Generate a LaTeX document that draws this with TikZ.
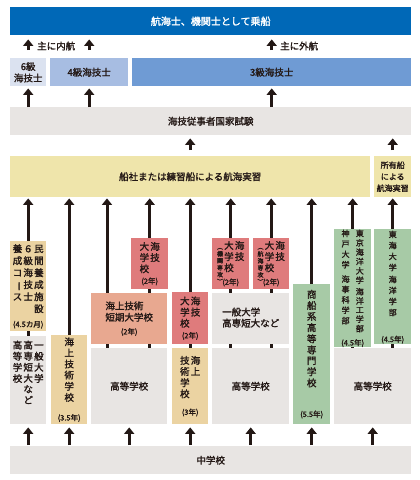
\documentclass[tikz,border=0pt]{standalone}
\usepackage{fontspec}
\newfontfamily\jp{Noto Sans CJK JP}[FakeBold=1.6]
\usetikzlibrary{arrows.meta,backgrounds}

\definecolor{sumi}{HTML}{231815}
\definecolor{kaiun}{HTML}{0068B7}
\definecolor{rokuiro}{HTML}{DBE2F0}
\definecolor{yoniro}{HTML}{A7BDE2}
\definecolor{saniro}{HTML}{6F9BD4}
\definecolor{haiiro}{HTML}{E8E5E3}
\definecolor{kiiro}{HTML}{EFE5AB}
\definecolor{chairo}{HTML}{EBD3A2}
\definecolor{sakeiro}{HTML}{E8A890}
\definecolor{momoiro}{HTML}{DF7B7C}
\definecolor{midori}{HTML}{A7CAA6}

% vertical text: one character per row
\newcommand\tate[2][10.5]{\begingroup\fontsize{\csname f@size\endcsname}{#1}\selectfont
  \begin{tabular}[t]{@{\hspace{.6pt}}c@{\hspace{.6pt}}}#2\end{tabular}\endgroup}
\newcommand\nensize{\fontsize{7.5}{9}\selectfont}
\newcommand\kotate[1]{\raisebox{0pt}[\height][0pt]{\fontsize{6}{6.6}\selectfont\tate[6.6]{#1}}}
\newcommand\bou{\rotatebox[origin=c]{-90}{ー}}

\tikzset{
  box/.style={fill=#1, inner sep=0pt, anchor=north west, text=sumi, align=center,
    font=\jp\fontsize{9.5}{10.5}\selectfont},
  sz/.style 2 args={minimum width=#1pt, minimum height=#2pt},
  arr/.style={draw=sumi, line width=3pt, -{Triangle[width=10pt,length=6.5pt]}},
}

\begin{document}
\begin{tikzpicture}[x=1pt,y=-1pt]
\useasboundingbox (0,0) rectangle (420,480);
% licenses
\node[box=kaiun, sz={401}{28}, text=white, font=\jp\fontsize{10}{12}\selectfont] (josen) at (10,7) {航海士、機関士として乗船};
\node[text=sumi, font=\jp\fontsize{9.5}{11}\selectfont, anchor=west, inner sep=0pt] (naiko) at (37,46) {主に内航};
\node[text=sumi, font=\jp\fontsize{9.5}{11}\selectfont, anchor=west, inner sep=0pt] (gaiko) at (280,46) {主に外航};
\node[box=rokuiro, sz={36}{28}, font=\jp\fontsize{9.5}{11.5}\selectfont] (rokkyu) at (10,58) {6級\\海技士};
\node[box=yoniro, sz={78}{28}] (yonkyu) at (50,58) {4級海技士};
\node[box=saniro, sz={279}{28}] (sankyu) at (132,58) {3級海技士};
\node[box=haiiro, sz={401}{28}] (shiken) at (10,107) {海技従事者国家試験};
\node[box=kiiro, sz={360}{41}] (jisshu) at (10,156) {船社または練習船による航海実習};
\node[box=kiiro, sz={37}{41}, font=\jp\fontsize{8}{11.5}\selectfont] (shoyu) at (374,156) {所有船\\による\\航海実習};

% schools
\node[box=chairo, sz={36}{90}, font=\jp\fontsize{9.5}{12}\selectfont] (minkan) at (10,241)
  {\tate[12]{養\\成\\コ\\\bou\\ス}\tate[12]{６\\級\\海\\技\\士}\tate[12]{民\\間\\養\\成\\施\\設}\\[4pt]{\nensize(4.5カ月)}};
\node[box=haiiro, sz={36}{88}] (ippan1) at (10,336)
  {\tate{高\\等\\学\\校}\tate{高\\専\\短\\大\\な\\ど}\tate{一\\般\\大\\学}\\[12pt]\mbox{}};
\node[box=chairo, sz={36}{89}] (gijutsu1) at (51,335)
  {\tate{海\\上\\技\\術\\学\\校}\\[9pt]{\nensize(3.5年)}};
\node[box=momoiro, sz={37}{51}] (kaigi1) at (131,238)
  {\tate{大\\学\\校}\tate{海\\技}\\[1pt]{\nensize(2年)}};
\node[box=sakeiro, sz={76}{51}, font=\jp\fontsize{9.5}{11}\selectfont] (tandai) at (91,293)
  {\begin{tabular}{@{}l@{}}海上技術\\短期大学校\end{tabular}\\[3pt]{\nensize(2年)}};
\node[box=haiiro, sz={76}{76}] (koko3) at (91,348) {高等学校};
\node[box=momoiro, sz={36}{52}] (kaigi2) at (172,292)
  {\tate{大\\学\\校}\tate{海\\技}\\[1pt]{\nensize(2年)}};
\node[box=chairo, sz={36}{76}] (gijutsu2) at (172,348)
  {\tate{技\\術\\学\\校}\tate{海\\上}\\[7pt]{\nensize(3年)}};
\node[box=momoiro, sz={37}{51}] (kikan) at (212,238)
  {\kotate{︵\\機\\関\\専\\攻\\︶}\tate{大\\学\\校}\tate{海\\技}\\[3pt]{\nensize(2年)}};
\node[box=momoiro, sz={36}{51}] (kokai) at (253,238)
  {\kotate{︵\\航\\海\\専\\攻\\︶}\tate{大\\学\\校}\tate{海\\技}\\[3pt]{\nensize(2年)}};
\node[box=haiiro, sz={77}{51}] (ippan2) at (212,293)
  {\begin{tabular}{@{}l@{}}一般大学\\高専短大など\end{tabular}};
\node[box=haiiro, sz={77}{76}] (koko5) at (212,348) {高等学校};
\node[box=midori, sz={37}{140}] (shosen) at (293,284)
  {\tate{商\\船\\系\\高\\等\\専\\門\\学\\校}\\[20pt]{\nensize(5.5年)}};
\node[box=midori, sz={37}{115}, font=\jp\fontsize{8}{9}\selectfont] (tokyo) at (334,229)
  {\tate[10.4]{神\\戸\\大\\学\\[4pt]海\\事\\科\\学\\部}\hspace{5pt}\tate[8.8]{東\\京\\海\\洋\\大\\学\\[2pt]海\\洋\\工\\学\\部}\\[4pt]{\nensize(4.5年)}};
\node[box=midori, sz={37}{115}, font=\jp\fontsize{8}{9}\selectfont] (tokai) at (374,229)
  {\tate[11]{東\\海\\大\\学\\[1pt]海\\洋\\学\\部}\\[16pt]{\nensize(4.5年)}};
\node[box=haiiro, sz={77}{76}] (koko7) at (334,348) {高等学校};
\node[box=haiiro, sz={401}{28}] (chu) at (10,446) {中学校};

% arrows
\foreach \n in {rokkyu,yonkyu,sankyu}
{
  \draw[arr, shorten <=8pt, shorten >=4pt] (\n.north) -- (\n.north |- josen.south);
  \draw[arr, shorten >=2pt] (\n.south |- shiken.north) -- (\n.south);
}
\foreach \n in {jisshu,shoyu}
  \draw[arr, shorten <=6pt, shorten >=3pt] (\n.north) -- (\n.north |- shiken.south);
\foreach \n in {ippan1,gijutsu1,koko3,gijutsu2,koko5,shosen,koko7}
  \draw[arr, shorten <=1pt, shorten >=3pt] (\n.south |- chu.north) -- (\n.south);

% routes up to the training, under the boxes
\begin{scope}[on background layer]
  \fill[white] (0,0) rectangle (420,480);
  \coordinate (tanL) at ([xshift=16pt]koko3.north west);
  \draw[arr, shorten >=1pt] (ippan1.north) -- (ippan1.north |- jisshu.south);
  \draw[arr, shorten >=1pt] (gijutsu1.north) -- (gijutsu1.north |- jisshu.south);
  \draw[arr, shorten >=1pt] (tanL) -- (tanL |- jisshu.south);
  \draw[arr, shorten >=1pt] (koko3.north -| kaigi1) -- (kaigi1 |- jisshu.south);
  \draw[arr, shorten >=1pt] (gijutsu2.north) -- (gijutsu2.north |- jisshu.south);
  \draw[arr, shorten >=1pt] (koko5.north -| kikan) -- (kikan |- jisshu.south);
  \draw[arr, shorten >=1pt] (koko5.north -| kokai) -- (kokai |- jisshu.south);
  \draw[arr, shorten >=1pt] (shosen.north) -- (shosen.north |- jisshu.south);
  \draw[arr, shorten >=1pt] (koko7.north -| tokyo) -- (tokyo |- jisshu.south);
  \draw[arr, shorten >=1pt] (koko7.north -| tokai) -- (tokai |- jisshu.south);
\end{scope}
\end{tikzpicture}
\end{document}
